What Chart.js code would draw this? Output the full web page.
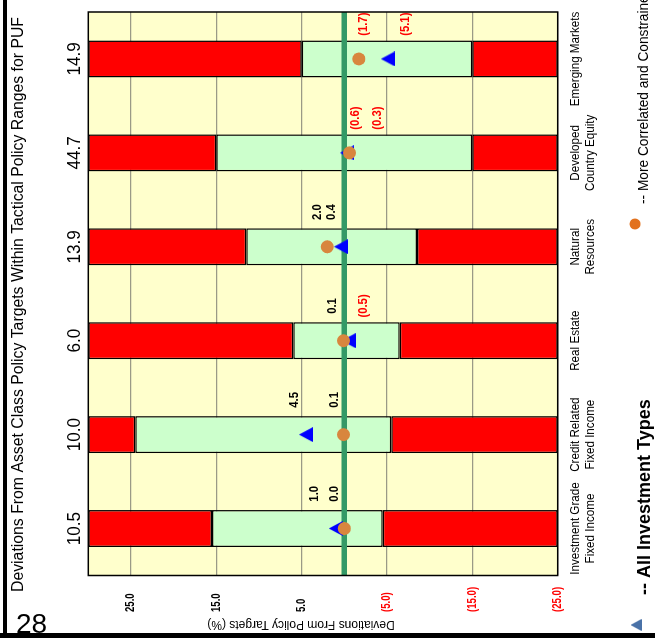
<!DOCTYPE html>
<html>
<head>
<meta charset="utf-8">
<script src="https://cdn.jsdelivr.net/npm/chart.js@4.4.1/dist/chart.umd.min.js"></script>
<style>
  html, body { margin: 0; padding: 0; background: #fff; overflow: hidden; width: 655px; height: 638px; }
  /* the slide is laid out in landscape and turned a quarter turn counter-clockwise */
  #stage { position: absolute; left: 0; top: 0; width: 638px; height: 655px;
           transform-origin: 0 0; transform: translate(0, 638px) rotate(-90deg); }
  #pageNo { position: absolute; left: 16px; top: 610px; font: 28px "Liberation Sans", Arial, sans-serif;
            line-height: 1; color: #000; }
  #edgeLeft { position: absolute; left: 3px; top: 0; width: 4px; height: 638px; background: #000; }
  #edgeBottom { position: absolute; left: 0; top: 633px; width: 655px; height: 5px; background: #000; }
</style>
</head>
<body>
<div id="stage"><canvas id="chart" width="638" height="655"></canvas></div>
<div id="pageNo">28</div>
<div id="edgeLeft"></div>
<div id="edgeBottom"></div>
<script>
// ---- data ----
const categories = [
  ['Investment Grade', 'Fixed Income'],
  ['Credit Related', 'Fixed Income'],
  ['Real Estate'],
  ['Natural', 'Resources'],
  ['Developed', 'Country Equity'],
  ['Emerging Markets']
];
const policyTargets = [10.5, 10.0, 6.0, 13.9, 44.7, 14.9];
const rangeLow  = [-4.5, -5.5, -6.5, -8.5, -15.0, -15.0];
const rangeHigh = [15.5, 24.5, 6.0, 11.5, 15.0, 5.0];
const allInvestmentTypes = [1.0, 4.5, -0.5, 0.4, -0.3, -5.1];
const correlatedConstrained = [0.0, 0.1, 0.1, 2.0, -0.6, -1.7];
const yTickValues = [25, 15, 5, -5, -15, -25];

// ---- layout: where each value label sits on the deviation axis ----
const allTypesLabelAt    = [3.5, 5.8, -2.2, 1.55, -3.85, -7.2];
const constrainedLabelAt = [1.15, 1.2, 1.45, 3.15, -1.25, -2.2];

const Y_MIN = -25, Y_MAX = 30;
const RED = '#ff0000';
const FONT = '"Liberation Sans", Arial, sans-serif';
const TITLE = 'Deviations From Asset Class Policy Targets Within Tactical Policy Ranges for PUF';

const fmt = v => v < 0 ? '(' + Math.abs(v).toFixed(1) + ')' : v.toFixed(1);

function txt(ctx, s, x, y, o) {
  ctx.save();
  ctx.translate(x, y);
  if (o.rot) ctx.rotate(o.rot);
  ctx.scale(o.sx || 1, 1);
  ctx.font = (o.weight || 'normal') + ' ' + o.size + 'px ' + FONT;
  ctx.fillStyle = o.color || '#000';
  ctx.textAlign = o.align || 'left';
  ctx.textBaseline = o.baseline || 'alphabetic';
  ctx.fillText(s, 0, 0);
  ctx.restore();
}

// triangle marker, centred on its bounding box
function triangleMark(w, h, color) {
  const c = document.createElement('canvas');
  c.width = w; c.height = h;
  const g = c.getContext('2d');
  g.fillStyle = color;
  g.beginPath();
  g.moveTo(w / 2, 0);
  g.lineTo(w, h);
  g.lineTo(0, h);
  g.closePath();
  g.fill();
  return c;
}
const blueTriangle = triangleMark(15, 14, '#0000ff');

const barStyle = {
  borderColor: '#000', borderWidth: 1.5, borderSkipped: false,
  grouped: false, barPercentage: 0.394, categoryPercentage: 1, order: 2
};

const decor = {
  id: 'decor',
  beforeDraw(chart) {
    const { ctx, chartArea: a } = chart;
    ctx.save();
    ctx.fillStyle = '#ffffcc';
    ctx.fillRect(a.left, a.top, a.right - a.left, a.bottom - a.top);
    ctx.restore();
  },
  beforeDatasetDraw(chart, args) {
    if (args.index !== 1) return;
    const { ctx, chartArea: a, scales: { y } } = chart;
    const y0 = y.getPixelForValue(0);
    ctx.save();
    ctx.strokeStyle = '#339966';
    ctx.lineWidth = 5.5;
    ctx.beginPath();
    ctx.moveTo(a.left, y0);
    ctx.lineTo(a.right, y0);
    ctx.stroke();
    ctx.restore();
  },
  afterDraw(chart) {
    const { ctx, chartArea: a, scales: { x, y } } = chart;
    // plot frame
    ctx.save();
    ctx.strokeStyle = '#000';
    ctx.lineWidth = 1.5;
    ctx.strokeRect(a.left, a.top, a.right - a.left, a.bottom - a.top);
    ctx.restore();

    // title
    txt(ctx, TITLE, 46, 22.7, { size: 15.8 });

    // policy target weights above each column
    policyTargets.forEach((t, i) =>
      txt(ctx, t.toFixed(1), x.getPixelForValue(i), 80, { size: 18, sx: 0.95, align: 'center' }));

    // deviation axis labels
    y.ticks.forEach(t =>
      txt(ctx, fmt(t.value), 26, y.getPixelForValue(t.value),
          { size: 12, weight: 'bold', sx: 0.8, baseline: 'middle', color: t.value < 0 ? RED : '#000' }));
    txt(ctx, 'Deviations From Policy Targets (%)', 17, 301, { size: 12, rot: -Math.PI / 2, align: 'center' });

    // category names
    categories.forEach((lines, i) => lines.forEach((s, k) =>
      txt(ctx, s, x.getPixelForValue(i), a.bottom + 21 + k * 15, { size: 12, sx: 0.97, align: 'center' })));

    // value labels for both marker series
    [[allInvestmentTypes, allTypesLabelAt], [correlatedConstrained, constrainedLabelAt]].forEach(([vals, at]) =>
      vals.forEach((v, i) =>
        txt(ctx, fmt(v), x.getPixelForValue(i + 0.37), y.getPixelForValue(at[i]),
            { size: 13, weight: 'bold', sx: 0.87, align: 'center', baseline: 'middle', color: v < 0 ? RED : '#000' })));

    // legend
    ctx.save();
    ctx.drawImage(triangleMark(12, 11, '#4a72a8'), 13 - 6, 636 - 5.5);
    ctx.fillStyle = '#e2711d';
    ctx.beginPath();
    ctx.arc(414, 635, 5.5, 0, Math.PI * 2);
    ctx.fill();
    ctx.restore();
    txt(ctx, '-- All Investment Types', 43, 650, { size: 18, weight: 'bold' });
    txt(ctx, '-- More Correlated and Constrained Investment Types', 434, 648, { size: 14.5, sx: 0.945 });
  }
};

new Chart(document.getElementById('chart'), {
  type: 'bar',
  data: {
    labels: categories.map(c => c.join(' ')),
    datasets: [
      { type: 'line', label: 'More Correlated and Constrained', data: correlatedConstrained, showLine: false,
        pointStyle: 'circle', pointRadius: 6.5, pointHoverRadius: 6.5,
        pointBackgroundColor: '#d8863e', pointBorderWidth: 0, order: 0 },
      { type: 'line', label: 'All Investment Types', data: allInvestmentTypes, showLine: false,
        pointStyle: blueTriangle, pointRadius: 8, order: 1 },
      Object.assign({ label: 'Below range', data: rangeLow.map(v => [Y_MIN, v]), backgroundColor: RED }, barStyle),
      Object.assign({ label: 'Tactical range', data: rangeLow.map((v, i) => [v, rangeHigh[i]]), backgroundColor: '#ccffcc' }, barStyle),
      Object.assign({ label: 'Above range', data: rangeHigh.map(v => [v, Y_MAX]), backgroundColor: RED }, barStyle)
    ]
  },
  options: {
    responsive: false,
    animation: false,
    devicePixelRatio: 1,
    events: [],
    layout: { padding: { left: 62.5, right: 12, top: 88.3, bottom: 97.3 } },
    plugins: { legend: { display: false }, tooltip: { enabled: false } },
    scales: {
      x: {
        type: 'category', offset: true,
        grid: { display: false }, border: { display: false }, ticks: { display: false },
        afterFit(s) { s.height = 0; }
      },
      y: {
        type: 'linear', min: Y_MIN, max: Y_MAX,
        afterBuildTicks(s) { s.ticks = yTickValues.map(v => ({ value: v })); },
        grid: { color: '#9a9a86', lineWidth: 1.3, drawTicks: false },
        border: { display: false }, ticks: { display: false },
        afterFit(s) { s.width = 0; }
      }
    }
  },
  plugins: [decor]
});
</script>
</body>
</html>
